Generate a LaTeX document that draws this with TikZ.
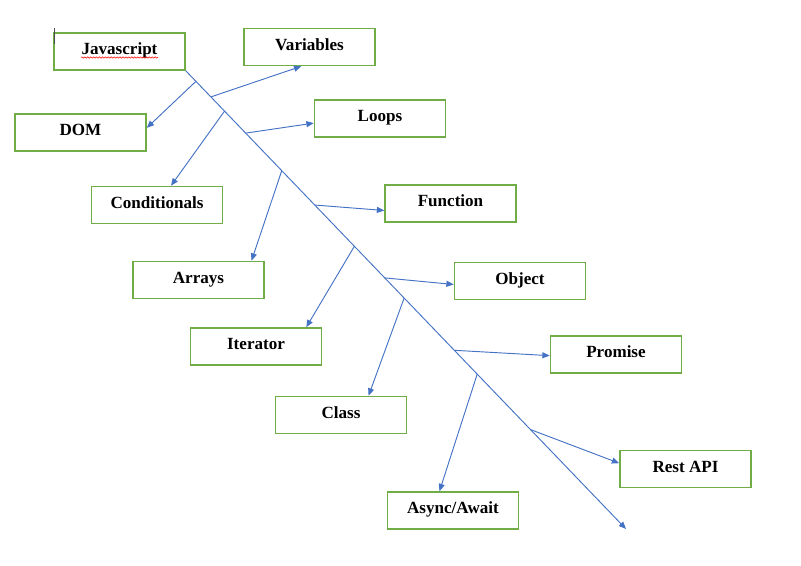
\documentclass[tikz,border=0pt]{standalone}
\usepackage{fontspec}
\setmainfont{Liberation Serif}
\usetikzlibrary{arrows.meta,calc,decorations.pathmorphing}
\definecolor{boxgreen}{HTML}{70AD47}
\definecolor{linkblue}{HTML}{4472C4}
\tikzset{
  topic/.style={draw=boxgreen, line width=1.2pt, minimum width=98.25pt, minimum height=27.75pt,
    inner ysep=0pt, text height=16.2pt, text depth=11.55pt, font=\fontsize{12.8}{15}\selectfont\bfseries},
  branch/.style={linkblue, line width=0.7pt, -{Triangle[length=5.5pt,width=4.5pt]}}
}
\begin{document}
\begin{tikzpicture}[x=0.75pt, y=-0.75pt]
	\useasboundingbox (0,0) rectangle (801,566);
	\node [topic] (js) at (119.5,51.5) {Javascript};
	\node [topic] (var) at (309.5,47) {Variables};
	\node [topic] (dom) at (80.5,132.5) {DOM};
	\node [topic] (loops) at (380,118.5) {Loops};
	\node [topic] (cond) at (157,205) {Conditionals};
	\node [topic] (func) at (450.5,203.5) {Function};
	\node [topic] (arrays) at (198.5,280) {Arrays};
	\node [topic] (obj) at (520,281) {Object};
	\node [topic] (iter) at (256,346.5) {Iterator};
	\node [topic] (prom) at (616,354.5) {Promise};
	\node [topic] (class) at (341,415) {Class};
	\node [topic] (rest) at (685.5,469) {Rest API};
	\node [topic] (async) at (453,510.5) {Async/Await};
	\coordinate (tail) at (626,529);
	\draw [branch] (js.south east) -- (tail);
	\foreach \p/\tgt in {0.023/dom.4, 0.057/var.247, 0.088/cond.54, 0.136/loops.184,
	  0.218/arrays.20, 0.293/func.186, 0.383/iter.21, 0.452/obj.183, 0.496/class.35,
	  0.61/prom.181, 0.662/async.125, 0.783/rest.175}{
	\draw [branch] ($(js.south east)!\p!(tail)$) -- (\tgt);
	}
	% spell check mark and cursor
	\draw [red, line width=0.4pt, decorate, decoration={snake, amplitude=0.5pt, segment length=2.2pt}] (81,57.5) -- (158,57.5);
	\draw [gray!60!black, line width=0.5pt] (54,28) -- (54,44);
\end{tikzpicture}
\end{document}
